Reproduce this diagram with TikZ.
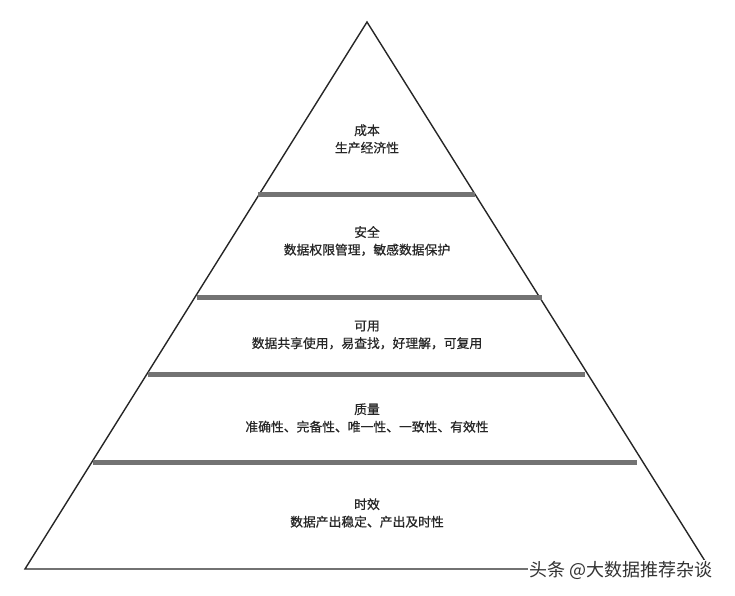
\documentclass[tikz,border=0pt]{standalone}
\usepackage{fontspec}
\setmainfont{Noto Sans CJK SC}
\newfontfamily\lblfont[FakeBold=0.6]{Noto Sans CJK SC}
\begin{document}
\begin{tikzpicture}[x=1pt,y=-1pt,
  edge/.style={draw=black!85, line width=1.4pt},
  bar/.style={draw=black!55, line width=5pt},
  lbl/.style={align=center, text=black!85, font=\lblfont\fontsize{12.8}{17.5}\selectfont, inner sep=0pt},
  wm/.style={text=black!80, font=\fontsize{18}{20}\selectfont, fill=white, inner sep=1pt}]
\useasboundingbox (0,0) rectangle (735,595);
\coordinate (apex) at (367,22);
\coordinate (bl) at (25,569);
\coordinate (br) at (710,569);
\draw[edge, line join=miter] (bl) -- (apex) -- (br) -- cycle;
\coordinate (b1l) at (258,194); \coordinate (b1r) at (475,194);
\coordinate (b2l) at (197,297); \coordinate (b2r) at (542,297);
\coordinate (b3l) at (148,374); \coordinate (b3r) at (585,374);
\coordinate (b4l) at (93,462);  \coordinate (b4r) at (637,462);
\draw[bar] (b1l) -- (b1r);
\draw[bar] (b2l) -- (b2r);
\draw[bar] (b3l) -- (b3r);
\draw[bar] (b4l) -- (b4r);
\node[lbl] (t1) at (367,139) {成本\\生产经济性};
\node[lbl] (t2) at (367,241) {安全\\数据权限管理，敏感数据保护};
\node[lbl] (t3) at (367,335) {可用\\数据共享使用，易查找，好理解，可复用};
\node[lbl] (t4) at (367,418) {质量\\准确性、完备性、唯一性、一致性、有效性};
\node[lbl] (t5) at (367,513) {时效\\数据产出稳定、产出及时性};
\node[wm, anchor=west] (wm) at (528,570) {头条 @大数据推荐杂谈};
\end{tikzpicture}
\end{document}
